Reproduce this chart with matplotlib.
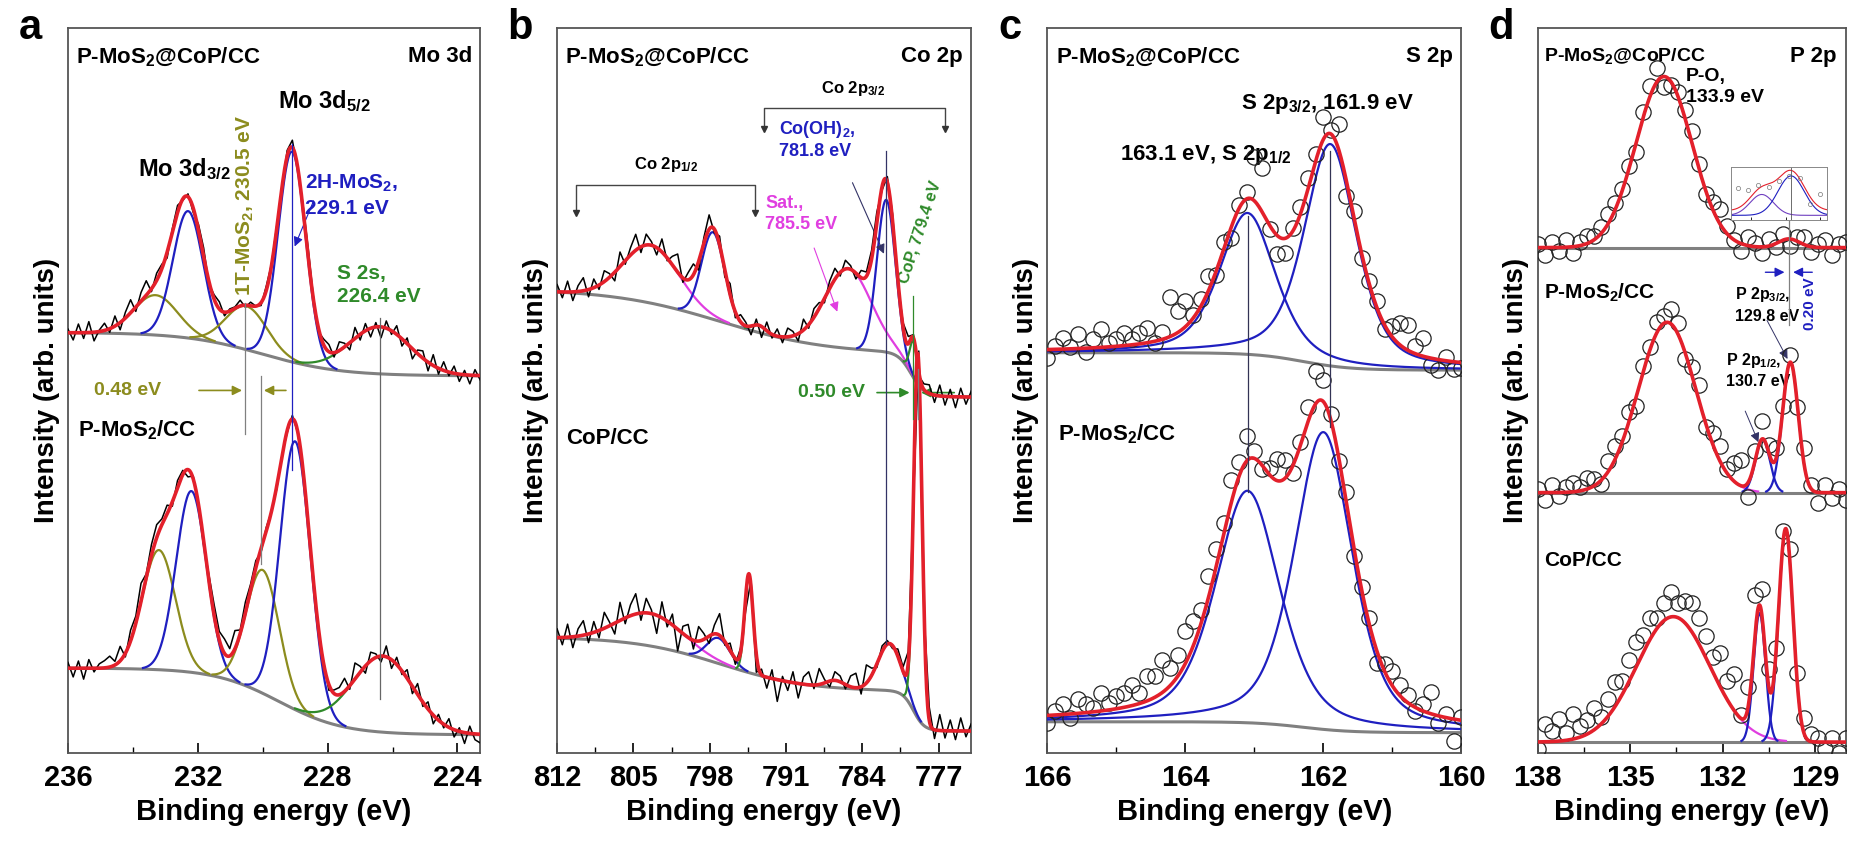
import numpy as np
import matplotlib
matplotlib.use("Agg")
import matplotlib.pyplot as plt
from matplotlib.ticker import MultipleLocator

plt.rcParams['font.family'] = ['Liberation Sans', 'DejaVu Sans']
plt.rcParams['font.weight'] = 'bold'
plt.rcParams['mathtext.fontset'] = 'custom'
plt.rcParams['mathtext.rm'] = 'Liberation Sans:bold'
plt.rcParams['mathtext.bf'] = 'Liberation Sans:bold'
plt.rcParams['mathtext.default'] = 'bf'

RED = '#e3202b'
BLUE = '#1f1fc0'
OLIVE = '#8c8c1e'
GREEN = '#2f8a2a'
MAG = '#e03ee0'
GRAY = '#808080'

# ---- peak tables: (centre eV, height, fwhm, colour) ----
# panel a, Mo 3d
a_top_peaks = [(233.3, 0.55, 1.6, OLIVE), (232.3, 1.75, 1.1, BLUE), (230.5, 0.60, 1.5, OLIVE),
               (229.1, 2.90, 1.0, BLUE), (226.4, 0.65, 2.2, GREEN)]
a_bot_peaks = [(233.2, 1.65, 1.2, OLIVE), (232.2, 2.50, 1.1, BLUE), (230.0, 1.70, 1.2, OLIVE),
               (229.0, 3.70, 1.1, BLUE), (226.3, 1.05, 2.2, GREEN)]
a_top_base = (5.20, 0.60, 230.0, 1.2)   # right level, step, centre, width
a_bot_base = (0.25, 0.92, 229.5, 1.0)
a_top_res = [0.05, -0.10, 0.12, -0.08, 0.15, -0.12, 0.02, 0.10, -0.05, 0.14, -0.10, 0.08, 0.18, -0.06,
             0.12, 0.20, -0.04, 0.10, 0.06, -0.08, 0.05, 0.10, -0.02, 0.04, -0.06, 0.08, 0.12, -0.04,
             0.06, 0.10, -0.05, 0.03, 0.02, 0.08, -0.03, 0.05, 0.00, -0.04, 0.06, 0.02, 0.04, -0.02,
             0.08, 0.10, -0.02, 0.06, 0.12, 0.04, -0.05, 0.08, 0.10, -0.06, 0.12, 0.05, -0.10, 0.15,
             -0.08, 0.10, -0.12, 0.06, -0.15, 0.10, -0.05, 0.12, -0.10, 0.08, -0.14, 0.05, 0.10, -0.12,
             0.15, -0.08, 0.12, -0.05, 0.10, -0.10, 0.06, -0.12, 0.08, -0.06]
a_bot_res = [0.08, -0.12, 0.10, -0.15, 0.12, -0.05, 0.06, 0.10, 0.15, 0.05, 0.20, -0.05, 0.15, 0.10,
             0.25, 0.05, 0.15, 0.18, 0.08, 0.12, -0.06, 0.10, 0.06, -0.10, 0.04, 0.00, -0.05, 0.08,
             0.15, 0.12, 0.20, 0.10, 0.25, 0.05, 0.15, 0.08, 0.10, -0.05, 0.05, 0.00, -0.04, 0.02,
             -0.03, 0.05, -0.02, 0.03, 0.00, 0.05, -0.04, 0.02, -0.08, 0.05, 0.10, 0.18, -0.05, 0.22,
             0.08, -0.10, 0.12, 0.05, -0.08, 0.15, -0.12, 0.10, -0.05, 0.12, -0.10, 0.15, -0.06, 0.10,
             -0.12, 0.08, -0.05, 0.12, -0.10, 0.05, -0.15, 0.10, -0.08, -0.12]

# panel b, Co 2p
b_top_peaks = [(803.4, 0.80, 6.0, MAG), (797.7, 1.20, 2.5, BLUE), (793.5, 0.10, 1.5, GREEN),
               (785.3, 1.10, 5.0, MAG), (781.8, 2.10, 2.0, BLUE), (779.3, 0.50, 0.8, GREEN)]
b_bot_peaks = [(803.5, 0.45, 7.0, MAG), (797.2, 0.35, 2.5, BLUE), (794.4, 1.35, 0.9, GREEN),
               (786.5, 0.10, 2.0, MAG), (781.5, 0.65, 2.5, BLUE), (778.9, 5.00, 0.9, GREEN)]
b_top_base = (4.90, 0.60, 779.5, 0.6, 0.90, 797.0, 5.0)
b_bot_base = (0.30, 0.55, 779.3, 0.5, 0.75, 797.0, 4.0)
b_top_res = [0.10, -0.08, 0.15, -0.12, 0.08, 0.18, -0.10, 0.12, -0.06, 0.15, 0.05, -0.12, 0.20, -0.05,
             0.10, 0.22, -0.08, 0.15, 0.05, -0.10, 0.18, -0.04, 0.12, 0.25, -0.06, 0.10, 0.15, -0.12,
             0.08, 0.20, -0.05, 0.12, -0.10, 0.15, -0.08, 0.10, 0.05, -0.12, 0.08, -0.15, 0.12, -0.05,
             0.10, -0.08, 0.12, 0.06, -0.10, 0.15, -0.05, 0.12, 0.08, -0.06, 0.10, 0.15, -0.05, 0.12,
             0.05, -0.08, 0.10, 0.06, 0.12, 0.15, -0.05, 0.08, 0.10, -0.04, 0.06, 0.10, 0.05, -0.06,
             0.08, 0.12, -0.10, 0.15, -0.12, 0.10, -0.15, 0.12, -0.10, 0.08]
b_bot_res = [0.12, -0.10, 0.18, -0.15, 0.10, 0.20, -0.12, 0.15, -0.10, 0.22, 0.05, -0.15, 0.25, -0.08,
             0.15, 0.28, -0.10, 0.20, 0.05, -0.25, 0.22, -0.08, 0.15, -0.30, 0.10, 0.18, -0.12, 0.20,
             0.08, -0.10, 0.12, 0.30, -0.05, 0.10, -0.08, 0.06, -0.20, 0.10, -0.25, 0.08, -0.15, 0.12,
             -0.30, 0.06, -0.12, 0.15, -0.20, 0.10, 0.18, -0.05, 0.22, 0.05, -0.08, 0.12, 0.08, -0.06,
             0.15, 0.20, -0.10, 0.25, 0.10, -0.05, 0.08, 0.05, -0.04, 0.10, 0.06, 0.15, -0.08, 0.20,
             -0.10, 0.18, -0.12, 0.22, -0.10, 0.15, -0.12, 0.18, -0.08, 0.10]

# panel c, S 2p
c_top_peaks = [(163.1, 1.95, 0.95, BLUE), (161.9, 3.06, 0.90, BLUE)]
c_bot_peaks = [(163.1, 3.20, 1.10, BLUE), (162.0, 4.10, 1.00, BLUE)]
c_top_base = (5.28, 0.24, 162.3, 0.35)
c_bot_base = (0.28, 0.15, 162.3, 0.35)
c_top_res = [-0.12, 0.05, 0.15, 0.02, 0.20, -0.05, 0.12, 0.25, 0.05, 0.10, 0.18, 0.08, 0.15, 0.20,
             -0.02, 0.10, 0.55, 0.30, 0.35, 0.05, 0.10, 0.20, -0.05, 0.10, -0.15, 0.05, 0.10, 0.60,
             0.60, -0.05, -0.25, -0.20, 0.05, 0.10, 0.15, 0.10, 0.30, 0.05, 0.35, -0.20, 0.10, -0.05,
             0.05, 0.10, -0.05, 0.15, 0.30, 0.35, 0.10, 0.25, -0.10, -0.15, 0.05, -0.10, -0.08]
c_bot_res = [-0.10, 0.05, 0.15, -0.05, 0.20, 0.12, 0.05, 0.25, 0.10, 0.18, 0.20, 0.28, 0.15, 0.35,
             0.30, 0.45, 0.25, 0.30, 0.45, 0.35, 0.20, 0.30, 0.25, 0.15, 0.30, 0.20, 0.35, 0.10,
             -0.05, 0.10, 0.30, 0.25, -0.10, 0.05, 0.20, 0.45, 0.30, 0.10, -0.05, 0.15, -0.10, 0.05,
             0.10, -0.15, 0.10, 0.20, 0.15, 0.10, -0.05, 0.10, 0.30, -0.10, 0.05, -0.30, 0.05]

# panel d, P 2p
d_top_peaks = [(133.9, 2.36, 2.15, RED), (129.85, 0.12, 0.8, BLUE)]
d_mid_peaks = [(133.8, 2.35, 2.2, MAG), (130.7, 0.73, 0.55, BLUE), (129.8, 1.80, 0.60, BLUE)]
d_bot_peaks = [(133.6, 1.73, 2.8, MAG), (130.8, 1.78, 0.45, BLUE), (129.95, 2.93, 0.55, BLUE)]
d_levels = [6.97, 3.59, 0.15]
d_top_res = [0.05, -0.10, 0.08, -0.05, 0.10, -0.08, 0.05, 0.10, 0.05, 0.10, 0.15, 0.10, 0.05, 0.05,
             -0.10, 0.10, 0.15, 0.20, -0.15, -0.05, 0.05, 0.10, 0.15, 0.05, -0.05, 0.10, 0.20, 0.10,
             0.00, -0.10, 0.12, 0.05, -0.08, 0.10, -0.05, 0.08, -0.10, 0.06, 0.10, -0.08, 0.05, 0.10,
             -0.10, 0.05, 0.08]
d_mid_res = [0.05, -0.10, 0.10, -0.05, 0.08, 0.12, 0.05, 0.15, 0.10, -0.05, 0.15, 0.20, 0.10, 0.15,
             -0.10, 0.10, 0.05, 0.15, 0.10, 0.20, 0.15, -0.10, 0.10, 0.20, -0.05, 0.15, 0.20, 0.05,
             0.25, 0.35, -0.20, 0.15, 0.25, 0.10, 0.15, 0.05, 0.10, -0.10, 0.20, 0.05, -0.15, 0.10,
             -0.08, 0.05, -0.10]
d_bot_res = [-0.10, 0.25, 0.15, 0.30, 0.10, 0.35, 0.15, 0.20, 0.30, 0.10, 0.25, 0.35, 0.20, 0.30,
             0.35, 0.25, 0.30, 0.15, 0.25, 0.35, 0.20, 0.30, 0.40, 0.35, 0.30, 0.20, 0.45, 0.25,
             0.50, 0.05, 0.30, 0.60, 0.35, 0.25, 0.10, 0.20, 0.15, 0.05, 0.20, 0.10, 0.05, -0.10,
             0.05, -0.15, 0.05]

inset_e = [131.4, 131.1, 130.8, 130.5, 130.2, 129.9, 129.6, 129.3, 129.0]
inset_i = [0.70, 0.65, 0.75, 0.72, 0.85, 0.95, 0.90, 0.35, 0.55]


def gauss(x, c, h, w):
    return h * np.exp(-4 * np.log(2) * (x - c) ** 2 / w ** 2)


def pvoigt(x, c, h, w):
    return 0.5 * gauss(x, c, h, w) + 0.5 * h / (1 + 4 * (x - c) ** 2 / w ** 2)


def step(x, p):
    r = p[0]
    for k in range(1, len(p), 3):
        r = r + p[k] / (1 + np.exp(-(x - p[k + 1]) / p[k + 2]))
    return r


def spectrum(ax, x, base, peaks, shape, res, raw="line", red=True):
    comps = [shape(x, c, h, w) for c, h, w, col in peaks]
    fit = base + sum(comps)
    ax.plot(x, base, color=GRAY, lw=2.2, zorder=2)
    for (c, h, w, col), comp in zip(peaks, comps):
        yc = np.where(comp > 0.015, base + comp, np.nan)
        ax.plot(x, yc, color=col, lw=1.6, zorder=3)
    xr = np.linspace(x[0], x[-1], len(res))
    yr = np.interp(xr[::-1], x[::-1], fit[::-1])[::-1] + np.array(res)
    if raw == "line":
        ax.plot(xr, yr, color='black', lw=1.1, zorder=4)
    else:
        ax.plot(xr, yr, 'o', mfc='none', mec='#222222', ms=11, mew=0.9, zorder=4)
    if red:
        ax.plot(x, fit, color=RED, lw=2.6, zorder=5)
    return fit


def vline(ax, x, y0, y1, col='#555555', lw=0.9):
    ax.plot([x, x], [y0, y1], color=col, lw=lw, zorder=6)


def arrow(ax, xy, xytext, col, lw=1.2, style='-|>'):
    ax.annotate('', xy=xy, xytext=xytext,
                arrowprops=dict(arrowstyle=style, color=col, lw=lw, mutation_scale=14))


fig = plt.figure(figsize=(18.57, 8.46), dpi=100)
rects = [[0.0366, 0.110, 0.222, 0.857], [0.300, 0.110, 0.223, 0.857],
         [0.564, 0.110, 0.223, 0.857], [0.828, 0.110, 0.166, 0.857]]
axs = [fig.add_axes(r) for r in rects]
xlims = [(236, 223.3), (812, 774.0), (166, 160), (138, 128)]
majors = [[236, 232, 228, 224], [812, 805, 798, 791, 784, 777], [166, 164, 162, 160], [138, 135, 132, 129]]
minors = [2, 3.5, 1, 1.5]
for ax, xl, mj, mn, letter in zip(axs, xlims, majors, minors, "abcd"):
    ax.set_xlim(xl)
    ax.set_ylim(0, 10)
    ax.set_xticks(mj)
    ax.xaxis.set_minor_locator(MultipleLocator(mn))
    ax.set_yticks([])
    ax.tick_params(axis='x', which='major', direction='in', length=7, width=1.2, labelsize=21, pad=8)
    ax.tick_params(axis='x', which='minor', direction='in', length=4, width=1.0)
    for s in ax.spines.values():
        s.set_color('#555555')
        s.set_linewidth(1.3)
    ax.set_xlabel('Binding energy (eV)', fontsize=21, fontweight='bold', labelpad=4)
    ax.set_ylabel('Intensity (arb. units)', fontsize=20, fontweight='bold', labelpad=6)
    ax.text(-0.09 if letter != 'd' else -0.12, 1.0, letter, transform=ax.transAxes,
            fontsize=30, fontweight='bold', va='center', ha='center')
    ax.text(0.02, 0.975, r'P-MoS$_2$@CoP/CC', transform=ax.transAxes, fontsize=16 if letter != 'd' else 14,
            va='top', ha='left')

# ---- a ----
ax = axs[0]
x = np.linspace(236, 223.3, 600)
spectrum(ax, x, step(x, a_top_base), a_top_peaks, gauss, a_top_res)
spectrum(ax, x, step(x, a_bot_base), a_bot_peaks, gauss, a_bot_res)
ax.text(0.98, 0.975, 'Mo 3d', transform=ax.transAxes, fontsize=16, va='top', ha='right')
ax.text(232.4, 7.95, r'Mo 3d$_{3/2}$', fontsize=17, ha='center')
ax.text(228.1, 8.9, r'Mo 3d$_{5/2}$', fontsize=17, ha='center')
ax.text(230.55, 6.3, r'1T-MoS$_2$, 230.5 eV', color=OLIVE, fontsize=15, rotation=90, ha='center', va='bottom')
ax.text(228.7, 8.0, r'2H-MoS$_2$,' + '\n229.1 eV', color=BLUE, fontsize=15, ha='left', va='top', linespacing=1.3)
arrow(ax, (229.05, 6.95), (228.4, 7.65), BLUE, lw=0.8)
ax.text(227.7, 6.75, 'S 2s,\n226.4 eV', color=GREEN, fontsize=15, ha='left', va='top', linespacing=1.3)
ax.text(235.2, 5.0, '0.48 eV', color=OLIVE, fontsize=14, va='center')
arrow(ax, (230.55, 5.0), (232.05, 5.0), OLIVE)
arrow(ax, (230.05, 5.0), (229.2, 5.0), OLIVE)
vline(ax, 230.55, 4.4, 6.2, col=GRAY)
vline(ax, 230.05, 2.6, 5.2, col=GRAY)
vline(ax, 229.1, 3.9, 8.4, col=BLUE)
vline(ax, 226.4, 0.75, 6.0, col='#666666')
ax.text(235.7, 4.45, r'P-MoS$_2$/CC', fontsize=16, va='center')

# ---- b ----
ax = axs[1]
x = np.linspace(812, 774.0, 800)
spectrum(ax, x, step(x, b_top_base), b_top_peaks, gauss, b_top_res)
spectrum(ax, x, step(x, b_bot_base), b_bot_peaks, gauss, b_bot_res)
ax.text(0.98, 0.975, 'Co 2p', transform=ax.transAxes, fontsize=16, va='top', ha='right')
ax.plot([810.3, 810.3, 793.8, 793.8], [7.45, 7.83, 7.83, 7.45], color='#444444', lw=1.0)
ax.plot([810.3, 793.8], [7.45, 7.45], 'v', color='#333333', ms=5)
ax.text(802.0, 8.05, r'Co 2p$_{1/2}$', fontsize=12, ha='center')
ax.plot([793.0, 793.0, 776.4, 776.4], [8.6, 8.9, 8.9, 8.6], color='#444444', lw=1.0)
ax.plot([793.0, 776.4], [8.6, 8.6], 'v', color='#333333', ms=5)
ax.text(784.8, 9.1, r'Co 2p$_{3/2}$', fontsize=12, ha='center')
ax.text(791.6, 8.75, r'Co(OH)$_2$,' + '\n781.8 eV', color=BLUE, fontsize=13, ha='left', va='top', linespacing=1.3)
arrow(ax, (781.9, 6.85), (785.0, 7.9), '#333366', lw=0.8)
ax.text(792.9, 7.7, 'Sat.,\n785.5 eV', color=MAG, fontsize=13, ha='left', va='top', linespacing=1.3)
arrow(ax, (786.2, 6.05), (788.5, 7.0), MAG, lw=0.8)
ax.text(778.7, 6.45, 'CoP, 779.4 eV', color=GREEN, fontsize=12, rotation=72, ha='center', va='bottom')
vline(ax, 781.85, 1.5, 8.3, col='#333366')
vline(ax, 779.35, 4.6, 6.3, col=GREEN)
vline(ax, 778.9, 4.6, 5.3, col=GRAY)
ax.text(786.8, 4.97, '0.50 eV', color=GREEN, fontsize=14, ha='center', va='center')
arrow(ax, (779.4, 4.97), (782.9, 4.97), GREEN)
arrow(ax, (778.85, 4.97), (775.3, 4.97), GREEN)
ax.text(811.2, 4.34, 'CoP/CC', fontsize=16, va='center')

# ---- c ----
ax = axs[2]
x = np.linspace(166, 160, 600)
spectrum(ax, x, step(x, c_top_base), c_top_peaks, pvoigt, c_top_res, raw="circles")
spectrum(ax, x, step(x, c_bot_base), c_bot_peaks, pvoigt, c_bot_res, raw="circles")
ax.text(0.98, 0.975, 'S 2p', transform=ax.transAxes, fontsize=16, va='top', ha='right')
ax.text(161.95, 8.95, r'S 2p$_{3/2}$, 161.9 eV', fontsize=16, ha='center', va='center')
ax.text(163.7, 8.25, r'163.1 eV, S 2p$_{1/2}$', fontsize=16, ha='center', va='center')
vline(ax, 163.1, 3.6, 7.4, col='#333355')
vline(ax, 161.9, 4.5, 8.3, col='#333355')
ax.text(165.85, 4.4, r'P-MoS$_2$/CC', fontsize=16, va='center')

# ---- d ----
ax = axs[3]
x = np.linspace(138, 128, 500)
for lvl, pk, rs in zip(d_levels, [d_top_peaks, d_mid_peaks, d_bot_peaks], [d_top_res, d_mid_res, d_bot_res]):
    spectrum(ax, x, np.full_like(x, lvl), pk, gauss, rs, raw="circles")
ax.axhline(d_levels[0], color=GRAY, lw=2.0, zorder=2)
ax.axhline(d_levels[1], color=GRAY, lw=2.0, zorder=2)
ax.text(0.97, 0.975, 'P 2p', transform=ax.transAxes, fontsize=16, va='top', ha='right')
ax.text(133.2, 9.45, 'P-O,\n133.9 eV', fontsize=14, ha='left', va='top', linespacing=1.3)
ax.text(137.8, 6.35, r'P-MoS$_2$/CC', fontsize=15, va='center')
ax.text(131.6, 6.45, r'P 2p$_{3/2}$,' + '\n129.8 eV', fontsize=11.5, ha='left', va='top', linespacing=1.4)
ax.text(131.9, 5.55, r'P 2p$_{1/2}$,' + '\n130.7 eV', fontsize=11.5, ha='left', va='top', linespacing=1.4)
arrow(ax, (129.85, 5.4), (130.6, 6.0), '#333366', lw=0.7)
arrow(ax, (130.8, 4.25), (131.3, 4.75), '#333366', lw=0.7)
vline(ax, 129.85, 5.9, 7.4, col=GRAY)
ax.text(129.15, 6.2, '0.20 eV', color=BLUE, fontsize=11, rotation=90, ha='center', va='center')
arrow(ax, (129.9, 6.63), (130.7, 6.63), BLUE, lw=1.0)
arrow(ax, (129.8, 6.63), (129.0, 6.63), BLUE, lw=1.0)
ax.text(137.8, 2.66, 'CoP/CC', fontsize=15, va='center')

ins = fig.add_axes([0.932, 0.74, 0.052, 0.063])
xi = np.linspace(131.6, 128.8, 200)
ins.plot(xi, gauss(xi, 130.7, 0.45, 0.8) + 0.1, color='#7040c0', lw=0.8)
ins.plot(xi, gauss(xi, 129.85, 0.85, 0.9) + 0.1, color=BLUE, lw=0.8)
ins.plot(xi, gauss(xi, 130.7, 0.45, 0.8) + gauss(xi, 129.85, 0.85, 0.9) + 0.2, color=RED, lw=0.8)
ins.plot(inset_e, inset_i, 'o', mfc='none', mec='#777777', ms=3, mew=0.5)
ins.axvline(129.85, color='#555555', lw=0.6)
ins.set_xlim(131.6, 128.8)
ins.set_ylim(0, 1.15)
ins.set_xticks([131, 130, 129])
ins.set_xticklabels([])
ins.set_yticks([])
ins.tick_params(length=2, width=0.6, direction='in')
for s in ins.spines.values():
    s.set_color('#888888')
    s.set_linewidth(0.7)

fig.savefig('out.png', dpi=100)
